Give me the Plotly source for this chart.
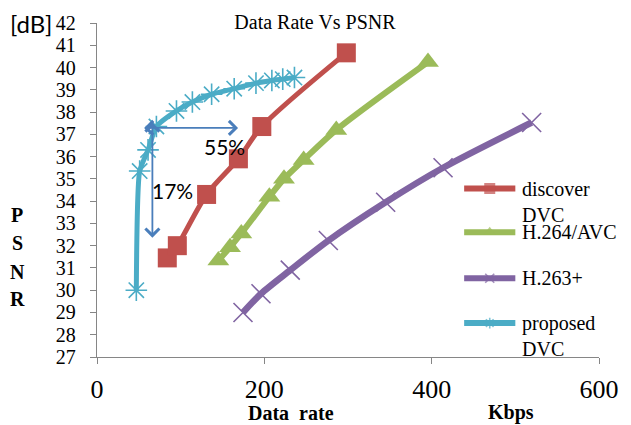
import plotly.graph_objects as go

# ---------------- data ----------------
rate_discover = [84, 96, 131, 169, 197, 298]
psnr_discover = [31.45, 32.0, 34.3, 35.9, 37.35, 40.66]

rate_h264 = [145, 159, 172.5, 206, 223.5, 247, 286, 395.6]
psnr_h264 = [31.33, 31.93, 32.55, 34.2, 35.0, 35.85, 37.2, 40.25]

rate_h263 = [174.5, 196, 231, 276.5, 345, 413.6, 519.5]
psnr_h263 = [29.0, 29.84, 30.9, 32.23, 33.95, 35.5, 37.53]

rate_prop = [47, 51, 61, 71, 95, 114, 137, 164, 190, 209, 222, 236]
psnr_prop = [30.0, 35.35, 36.3, 37.35, 38.05, 38.45, 38.8, 39.05, 39.3, 39.42, 39.48, 39.55]

series_names = ["discover<br>DVC", "H.264/AVC", "H.263+", "proposed<br>DVC"]
x_ticks = [0, 200, 400, 600]
y_ticks = list(range(27, 43))

# ---------------- style ----------------
W, H = 631, 425
PL, PR, PT, PB = 97, 607, 22, 357          # plot area in pixels
SERIF = "Liberation Serif, Times New Roman, serif"
SANS = "Lato, Calibri, sans-serif"
AXIS_GRAY = "#868686"
ARROW_BLUE = "#4A7EBB"
colors = ["#C0504D", "#9BBB59", "#8064A2", "#4BACC6"]
symbols = ["square", "triangle-up", "x-thin", "asterisk"]
msizes = [19, 19, 19, 18]
lwidths = [5, 6, 6.5, 5]
smooth = [0.8, 0.8, 0.8, 0.55]
leg_msizes = [11, 11, 9, 9]


def px(xp, yp):
    return (xp - PL) / (PR - PL), (PB - yp) / (PB - PT)


series = [
    (rate_discover, psnr_discover),
    (rate_h264, psnr_h264),
    (rate_h263, psnr_h263),
    (rate_prop, psnr_prop),
]

fig = go.Figure()
for (xs, ys), name, c, s, ms, lw, sm in zip(series, series_names, colors, symbols,
                                           msizes, lwidths, smooth):
    thin = s in ("x-thin", "asterisk")
    fig.add_trace(go.Scatter(
        x=xs, y=ys, name=name, mode="lines+markers",
        line=dict(color=c, width=lw, shape="spline", smoothing=sm),
        marker=dict(symbol=s, size=ms, color=c,
                    line=dict(color=c, width=1.6 if thin else 0)),
        cliponaxis=False, showlegend=False,
    ))

# custom legend (pixel overlay axes)
LEG_X0, LEG_X1 = 470, 522
LEG_ROWS = [188, 232, 278, 323]
for name, c, s, lms, yrow in zip(series_names, colors, symbols, leg_msizes, LEG_ROWS):
    thin = s in ("x-thin", "asterisk")
    fig.add_trace(go.Scatter(
        x=[LEG_X0, (LEG_X0 + LEG_X1) / 2, LEG_X1], y=[yrow] * 3,
        xaxis="x2", yaxis="y2", mode="lines+markers",
        line=dict(color=c, width=6),
        marker=dict(symbol=s, size=[0, lms, 0], color=c,
                    line=dict(color=c, width=1.6 if thin else 0)),
        showlegend=False, hoverinfo="skip", cliponaxis=False,
    ))
    fig.add_annotation(
        xref="x2", yref="y2", x=LEG_X1 + 5, y=yrow - 13,
        xanchor="left", yanchor="top", align="left",
        text=name, showarrow=False,
        font=dict(family=SERIF, size=20, color="black"),
    )

# arrows
arrows = [
    (54.5, 37.29, 168.6, 37.29),
    (66.2, 37.6, 66.2, 32.36),
]
for x0, y0, x1, y1 in arrows:
    fig.add_annotation(
        x=x1, y=y1, ax=x0, ay=y0, xref="x", yref="y", axref="x", ayref="y",
        text="", showarrow=True, arrowhead=4, startarrowhead=4,
        arrowside="end+start", arrowsize=1.5, startarrowsize=1.5,
        arrowwidth=1.8, arrowcolor=ARROW_BLUE,
    )

fig.add_annotation(x=152, y=36.44, xref="x", yref="y", text="55%", showarrow=False,
                   xanchor="center", yanchor="middle",
                   font=dict(family=SANS, size=21, color="black"))
fig.add_annotation(x=90, y=34.47, xref="x", yref="y", text="17%", showarrow=False,
                   xanchor="center", yanchor="middle",
                   font=dict(family=SANS, size=21, color="black"))


def paper_text(xp, yp, text, font):
    xx, yy = px(xp, yp)
    fig.add_annotation(xref="paper", yref="paper", x=xx, y=yy, text=text,
                       showarrow=False, xanchor="center", yanchor="middle", font=font)


paper_text(30, 22, "[dB]", dict(family=SANS, size=24, color="black"))
for letter, yp in zip("PSNR", [215, 243, 272, 299]):
    paper_text(16, yp, "<b>" + letter + "</b>", dict(family=SERIF, size=20, color="black"))
paper_text(294, 413, "<b>Data\u00a0\u00a0rate</b>", dict(family=SERIF, size=20, color="black"))
paper_text(518, 413, "<b>Kbps</b>", dict(family=SERIF, size=20, color="black"))

fig.update_layout(
    width=W, height=H,
    margin=dict(l=PL, r=W - PR, t=PT, b=H - PB, pad=0),
    paper_bgcolor="white", plot_bgcolor="white",
    showlegend=False,
    title=dict(text="Data Rate Vs PSNR", x=315 / W, xanchor="center",
               y=1 - 22 / H, yanchor="middle",
               font=dict(family=SERIF, size=20, color="black")),
    xaxis=dict(range=[0, 600], tickvals=x_ticks, ticks="outside", ticklen=6,
               tickcolor=AXIS_GRAY, tickwidth=1.3, showline=True, linecolor=AXIS_GRAY,
               linewidth=1.3, showgrid=False, zeroline=False,
               tickfont=dict(family=SERIF, size=26, color="black"), ticklabelstandoff=3),
    yaxis=dict(range=[27, 42], tickvals=y_ticks, ticks="outside", ticklen=6,
               tickcolor=AXIS_GRAY, tickwidth=1.3, showline=True, linecolor=AXIS_GRAY,
               linewidth=1.3, showgrid=False, zeroline=False,
               tickfont=dict(family=SERIF, size=20, color="black"), ticklabelstandoff=10),
    xaxis2=dict(range=[PL, PR], overlaying="x", anchor="y2", visible=False),
    yaxis2=dict(range=[PB, PT], overlaying="y", anchor="x2", visible=False),
)

fig.write_html("out.html", config={"displayModeBar": False},
               post_script="document.body.style.margin='0';")
